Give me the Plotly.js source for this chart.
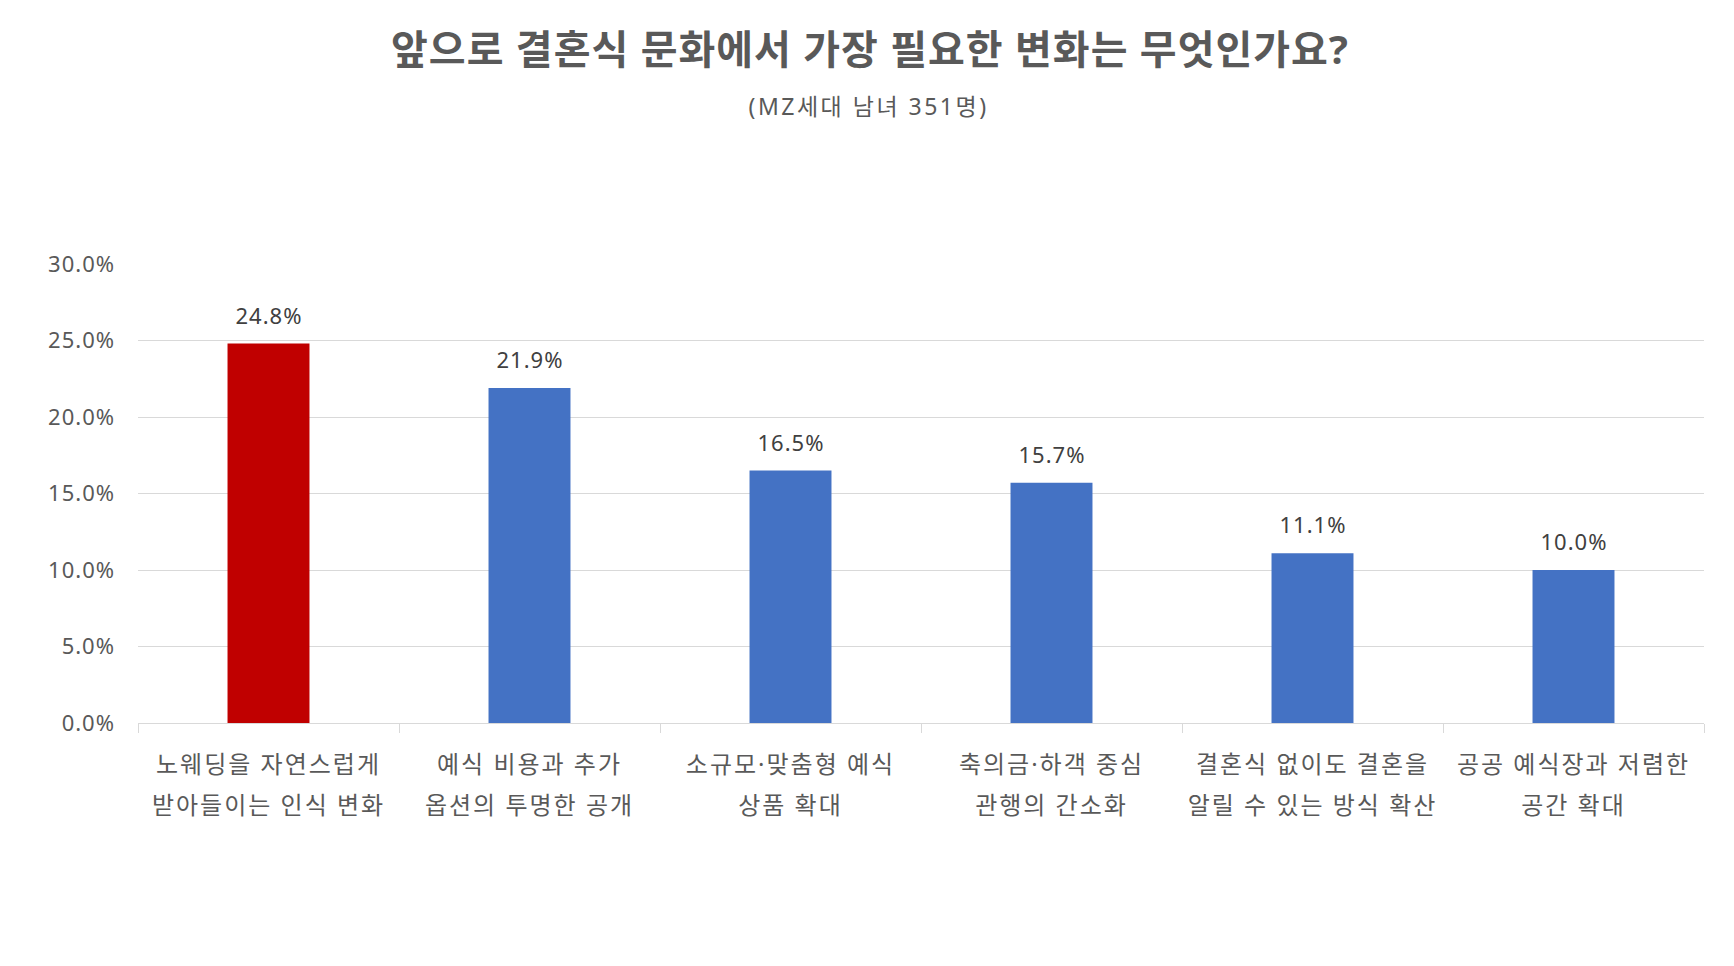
<!DOCTYPE html>
<html>
<head>
<meta charset="utf-8">
<script src="https://cdn.plot.ly/plotly-3.0.1.min.js"></script>
<style>
  html, body { margin: 0; padding: 0; background: #ffffff; }
  #chart { width: 1734px; height: 966px; }
  #chart .gtitle { letter-spacing: 1px; }
  #chart .xtick text, #chart .x2tick text { letter-spacing: 2px; }
  #chart .ytick text { letter-spacing: 1px; }
  #chart .annotation text { letter-spacing: 1px; }
  #chart .annotation[data-index="6"] text { letter-spacing: 2.5px; }
</style>
</head>
<body>
<div id="chart"></div>
<script>
// ---- data ----
const labelLine1 = [
  "노웨딩을 자연스럽게",
  "예식 비용과 추가",
  "소규모·맞춤형 예식",
  "축의금·하객 중심",
  "결혼식 없이도 결혼을",
  "공공 예식장과 저렴한"
];
const labelLine2 = [
  "받아들이는 인식 변화",
  "옵션의 투명한 공개",
  "상품 확대",
  "관행의 간소화",
  "알릴 수 있는 방식 확산",
  "공간 확대"
];
const values = [24.8, 21.9, 16.5, 15.7, 11.1, 10.0];
const yTickVals = [0, 5, 10, 15, 20, 25, 30];
const titleText = "앞으로 결혼식 문화에서 가장 필요한 변화는 무엇인가요?";
const subtitleText = "(MZ세대 남녀 351명)";

// ---- styles ----
const FONT = "'Noto Sans', 'Noto Sans CJK KR', sans-serif";
const RED = "#C00000";
const BLUE = "#4472C4";
const GRID = "#D9D9D9";

const colors = values.map((v, i) => (i === 0 ? RED : BLUE));
const idx = values.map((v, i) => i);

const barTrace = {
  type: "bar",
  x: labelLine1,
  y: values,
  marker: { color: colors, line: { width: 0 } },
  hoverinfo: "skip",
  showlegend: false
};

// carries the second line of the category labels (draws no marks)
const labelTrace = {
  type: "scatter",
  mode: "none",
  x: idx,
  y: values,
  xaxis: "x2",
  yaxis: "y",
  hoverinfo: "skip",
  showlegend: false
};

const dataLabels = values.map((v, i) => ({
  x: labelLine1[i],
  y: v,
  xref: "x",
  yref: "y",
  text: v.toFixed(1) + "%",
  showarrow: false,
  yanchor: "middle",
  yshift: 29,
  font: { family: FONT, size: 22, color: "#404040" }
}));

const layout = {
  width: 1734,
  height: 966,
  paper_bgcolor: "#ffffff",
  plot_bgcolor: "#ffffff",
  margin: { l: 138, r: 30, t: 264, b: 243, pad: 0 },
  font: { family: FONT, color: "#595959" },
  title: {
    text: titleText,
    font: { family: FONT, size: 40, color: "#595959", weight: "bold" },
    xref: "container", x: 870 / 1734, xanchor: "center",
    yref: "container", y: 1 - 50 / 966, yanchor: "middle"
  },
  bargap: 0.686,
  xaxis: {
    type: "category",
    range: [-0.5, 5.5],
    showline: true, linecolor: GRID, linewidth: 1,
    ticks: "outside", tickson: "boundaries", ticklen: 9, tickcolor: GRID, tickwidth: 1,
    showgrid: false, zeroline: false,
    tickfont: { family: FONT, size: 24, color: "#595959" },
    ticklabelstandoff: 20,
    fixedrange: true
  },
  xaxis2: {
    overlaying: "x",
    anchor: "y",
    side: "bottom",
    type: "linear",
    range: [-0.5, 5.5],
    tickmode: "array",
    tickvals: idx,
    ticktext: labelLine2,
    ticks: "", showline: false, showgrid: false, zeroline: false,
    tickfont: { family: FONT, size: 24, color: "#595959" },
    ticklabelstandoff: 66,
    fixedrange: true
  },
  yaxis: {
    range: [0, 30],
    tickmode: "array",
    tickvals: yTickVals,
    ticktext: yTickVals.map(v => v.toFixed(1) + "%"),
    showgrid: true, gridcolor: GRID, gridwidth: 1,
    showline: false, zeroline: false, ticks: "",
    tickfont: { family: FONT, size: 22, color: "#595959" },
    ticklabelstandoff: 22,
    fixedrange: true
  },
  annotations: dataLabels.concat([{
    text: subtitleText,
    xref: "paper", yref: "paper",
    x: (868 - 138) / 1566, y: 1 + (264 - 106) / 459,
    xanchor: "center", yanchor: "middle",
    showarrow: false,
    font: { family: FONT, size: 23, color: "#595959" }
  }])
};

Plotly.newPlot("chart", [barTrace, labelTrace], layout, { displayModeBar: false, staticPlot: true });
</script>
</body>
</html>
